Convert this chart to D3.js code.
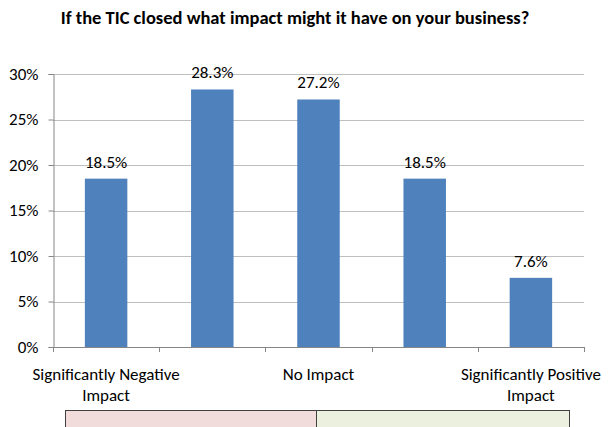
<!DOCTYPE html>
<html>
<head>
<meta charset="utf-8">
<script src="https://cdn.jsdelivr.net/npm/d3@7"></script>
<style>
  html, body { margin: 0; padding: 0; background: #fff; }
  svg { display: block; font-family: Carlito, Calibri, "Open Sans", sans-serif; }
</style>
</head>
<body>
<svg id="chart" width="613" height="427"></svg>
<script>
// Survey answers, on a five-point scale from negative to positive impact
const categories = ["c1", "c2", "c3", "c4", "c5"];
const categoryLabels = [["Significantly Negative", "Impact"], [], ["No Impact"], [], ["Significantly Positive", "Impact"]];
const values = [18.5, 28.3, 27.2, 18.5, 7.6];
const yTicks = [0, 5, 10, 15, 20, 25, 30];
const title = "If the TIC closed what impact might it have on your business?";

const svg = d3.select("#chart");
const m = { left: 53, right: 584, top: 74, bottom: 347 };
const fontFamily = "Carlito, Calibri, 'Open Sans', sans-serif";

const x = d3.scaleBand().domain(categories).range([m.left, m.right]).paddingInner(0.6).paddingOuter(0.3);
const y = d3.scaleLinear().domain([0, 30]).range([m.bottom, m.top]);

// Title
svg.append("text")
  .attr("x", 295).attr("y", 24)
  .attr("text-anchor", "middle")
  .attr("font-weight", "bold")
  .attr("font-size", 18.5)
  .attr("fill", "#000")
  .text(title);

// Horizontal gridlines
svg.append("g")
  .selectAll("line")
  .data(yTicks.filter(d => d > 0))
  .join("line")
  .attr("x1", m.left).attr("x2", m.right)
  .attr("y1", d => Math.round(y(d)) + 0.5).attr("y2", d => Math.round(y(d)) + 0.5)
  .attr("stroke", "#bfbfbf").attr("stroke-width", 1);

// Bars
svg.append("g")
  .selectAll("rect")
  .data(values)
  .join("rect")
  .attr("x", (d, i) => x(categories[i]))
  .attr("width", x.bandwidth())
  .attr("y", d => y(d))
  .attr("height", d => y(0) - y(d))
  .attr("fill", "#4f81bd");

// Value labels
svg.append("g")
  .selectAll("text")
  .data(values)
  .join("text")
  .attr("x", (d, i) => x(categories[i]) + x.bandwidth() / 2)
  .attr("y", d => y(d) - 11)
  .attr("text-anchor", "middle")
  .attr("font-size", 17)
  .attr("fill", "#000")
  .text(d => d.toFixed(1) + "%");

// Y axis
const yAxis = d3.axisLeft(y).tickValues(yTicks).tickFormat(d => d + "%").tickSize(5).tickPadding(10);
const gy = svg.append("g").attr("transform", `translate(${m.left + 0.5},0)`).call(yAxis);
gy.select(".domain").attr("stroke", "#868686");
gy.selectAll(".tick line").attr("stroke", "#868686");
gy.selectAll(".tick text").attr("font-size", 17).attr("fill", "#000").attr("font-family", fontFamily);

// X axis: baseline with tick marks between categories
const gx = svg.append("g");
gx.append("line")
  .attr("x1", m.left).attr("x2", m.right)
  .attr("y1", m.bottom + 0.5).attr("y2", m.bottom + 0.5)
  .attr("stroke", "#868686");
gx.selectAll("line.tk")
  .data(d3.range(categories.length + 1))
  .join("line")
  .attr("class", "tk")
  .attr("x1", i => Math.round(m.left + i * x.step()) + 0.5)
  .attr("x2", i => Math.round(m.left + i * x.step()) + 0.5)
  .attr("y1", m.bottom).attr("y2", m.bottom + 5)
  .attr("stroke", "#868686");

// Category labels (two lines where the text wraps)
const lab = svg.append("g")
  .selectAll("text")
  .data(categoryLabels)
  .join("text")
  .attr("x", (d, i) => x(categories[i]) + x.bandwidth() / 2)
  .attr("y", 380)
  .attr("text-anchor", "middle")
  .attr("font-size", 17)
  .attr("fill", "#000");
lab.selectAll("tspan")
  .data(d => d)
  .join("tspan")
  .attr("x", function () { return d3.select(this.parentNode).attr("x"); })
  .attr("dy", (d, i) => i === 0 ? 0 : 21)
  .text(d => d);

// Negative / positive bands under the axis
svg.append("rect").attr("x", 65.5).attr("y", 410.5).attr("width", 251).attr("height", 20)
  .attr("fill", "#f2dcdb").attr("stroke", "#404040");
svg.append("rect").attr("x", 316.5).attr("y", 410.5).attr("width", 253).attr("height", 20)
  .attr("fill", "#ebf1de").attr("stroke", "#404040");
</script>
</body>
</html>
